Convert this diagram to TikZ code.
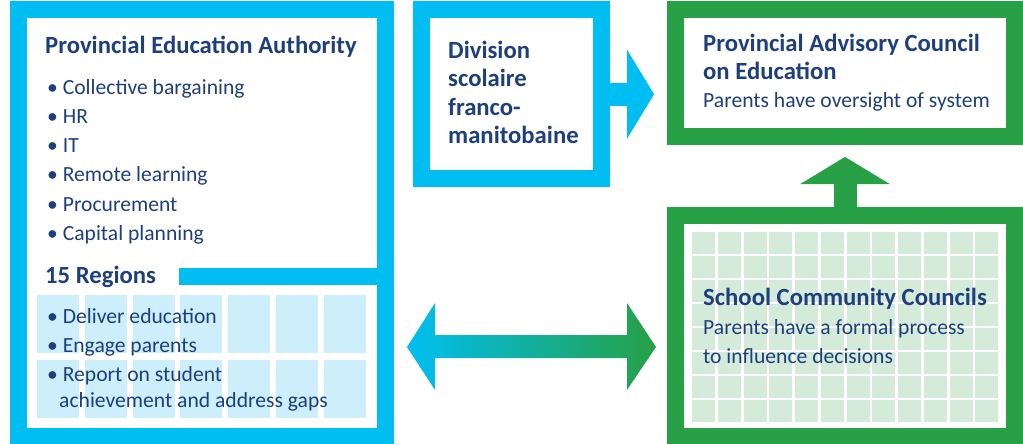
\documentclass[tikz,border=0pt]{standalone}
\usepackage{fontspec}
\setmainfont{Carlito}
\usetikzlibrary{arrows.meta}

\definecolor{peablue}{HTML}{00BEF2}
\definecolor{sccgreen}{HTML}{27A046}
\definecolor{peacell}{HTML}{CCEFFB}
\definecolor{scccell}{HTML}{D4EBD9}
\definecolor{ink}{HTML}{1E3F7E}

\begin{document}
\begin{tikzpicture}[x=1pt, y=-1pt]
  \tikzstyle{frame}=[draw, line width=17pt, inner sep=0pt]
  \tikzstyle{head}=[ink, anchor=base west, inner sep=0pt, font=\fontsize{24.7}{28}\selectfont\bfseries]
  \tikzstyle{item}=[ink, anchor=base west, inner sep=0pt, font=\fontsize{21.6}{26}\selectfont]
  \tikzstyle{block}=[line width=23pt, -{Triangle[width=89pt, length=27pt, line width'=0.1pt]}]

  \useasboundingbox (0,0) rectangle (1023,444);

  \node[frame, peablue, minimum width=367pt, minimum height=426pt] (PEA) at (202,223) {}; % Left box
  \node[frame, peablue, minimum width=179.5pt, minimum height=168.5pt] (DSFM) at (511.25,94.25) {}; % Middle box
  \node[frame, sccgreen, minimum width=339pt, minimum height=126.5pt] (PAC) at (845,73.25) {}; % Top-right box
  \node[frame, sccgreen, minimum width=339pt, minimum height=221pt] (SCC) at (845,326) {}; % Bottom-right box

  % light cells behind the texts
  \foreach \i in {0,...,6} \foreach \j in {0,1}
    \fill[peacell] (37+47.8*\i, 295+65*\j) rectangle ++(42,58);
  \foreach \i in {0,...,11} \foreach \j in {0,...,7}
    \fill[scccell] (692+25.75*\i, 232+24*\j) rectangle ++(23,22);

  \node[head] (A) at (45,53.3) {Provincial Education Authority};
  \node[item] (A1) at (47,94.3) {\textbullet\ Collective bargaining};
  \node[item] (A2) at (47,123.5) {\textbullet\ HR};
  \node[item] (A3) at (47,152.7) {\textbullet\ IT};
  \node[item] (A4) at (47,181.9) {\textbullet\ Remote learning};
  \node[item] (A5) at (47,211.1) {\textbullet\ Procurement};
  \node[item] (A6) at (47,240.3) {\textbullet\ Capital planning};
  \node[head] (REG) at (45,283.3) {15 Regions};
  \draw[peablue, line width=17pt] (REG.east) ++(23,0) -- (REG.east -| PEA.east); % Regions bar
  \node[item] (B1) at (47,323) {\textbullet\ Deliver education};
  \node[item] (B2) at (47,352.3) {\textbullet\ Engage parents};
  \node[item] (B3) at (47,381.5) {\textbullet\ Report on student};
  \node[item] (B4) at (59,407.3) {achievement and address gaps};

  \node[head] (C1) at (448,58.3) {Division};
  \node[head] (C2) at (448,86.8) {scolaire};
  \node[head] (C3) at (448,115.1) {franco-};
  \node[head] (C4) at (448,143.4) {manitobaine};

  \node[head] (D1) at (703,51.7) {Provincial Advisory Council};
  \node[head] (D2) at (703,80) {on Education};
  \node[item] (D3) at (703,107.3) {Parents have oversight of system};

  \node[head] (E1) at (703,305) {School Community Councils};
  \node[item] (E2) at (703,334.3) {Parents have a formal process};
  \node[item] (E3) at (703,363.3) {to influence decisions};

  \draw[peablue, block, shorten >=13pt] (DSFM.east) -- (DSFM.east -| PAC.west); % Right arrow
  \draw[sccgreen, block, shorten >=12pt] (SCC.north) -- (PAC.south); % Up arrow
  \coordinate (L) at (407,347);
  \coordinate (R) at (656,347);
  \shade[left color=peablue, right color=sccgreen] (L) -- ++(28,-44) -- ++(0,32) -- ++(192,0) -- ++(0,-32)
    -- (R) -- ++(-29,43) -- ++(0,-32) -- ++(-192,0) -- ++(0,32) -- cycle; % Double arrow
\end{tikzpicture}
\end{document}
